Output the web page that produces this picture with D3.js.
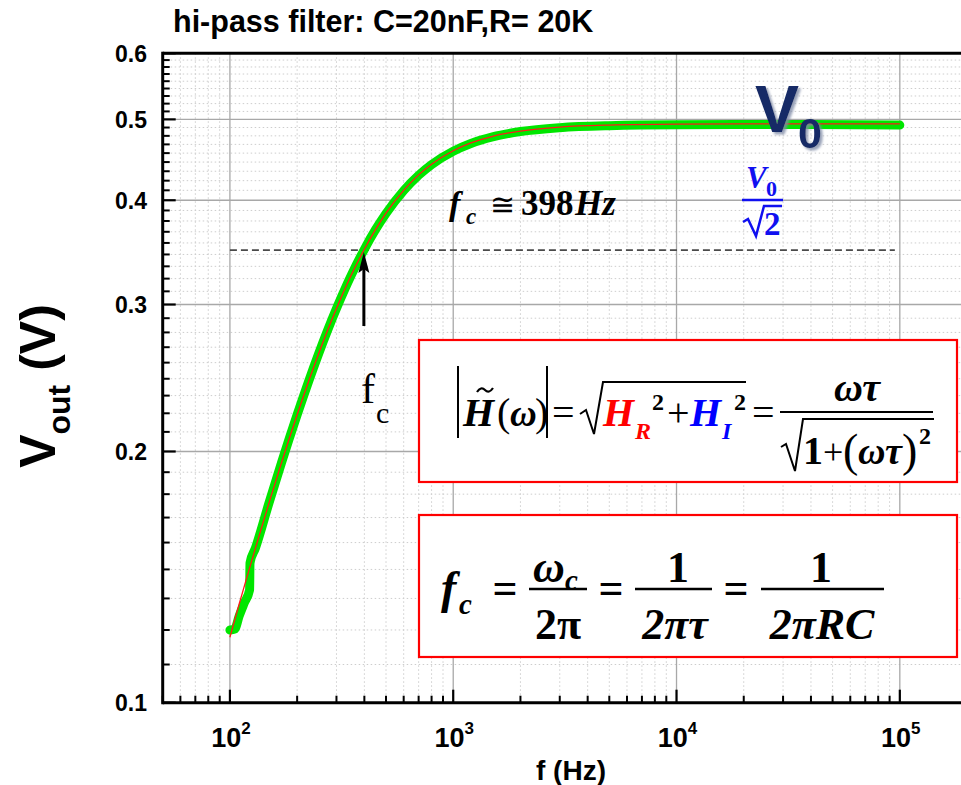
<!DOCTYPE html>
<html><head><meta charset="utf-8">
<script src="https://cdn.jsdelivr.net/npm/d3@7"></script>
<style>
html,body{margin:0;padding:0;background:#fff;}
svg{display:block;}
</style></head>
<body>
<svg id="chart" width="961" height="785"></svg>
<script>
// ---------------- data ----------------
const titleText = "hi-pass filter: C=20nF,R= 20K";
const xTickValues = [100, 1000, 10000, 100000];
const xTickExponents = ["2", "3", "4", "5"];
const yTickValues = [0.1, 0.2, 0.3, 0.4, 0.5, 0.6];
const yTickLabels = ["0.1", "0.2", "0.3", "0.4", "0.5", "0.6"];

// measured data (green)
const dataFreq = [100, 105, 110, 116, 122.5, 123, 130, 150, 170, 200, 250, 300, 350, 400, 450, 500, 600, 700, 800, 1000, 1200, 1500, 2000, 3000, 5000, 10000, 30000, 100000];
const dataVout = [0.1222, 0.1225, 0.1270, 0.1317, 0.1365, 0.1470, 0.1531, 0.1739, 0.1937, 0.2213, 0.2622, 0.2967, 0.3256, 0.3494, 0.3693, 0.3857, 0.4108, 0.4286, 0.4414, 0.4580, 0.4679, 0.4765, 0.4835, 0.4887, 0.4914, 0.4926, 0.4929, 0.4922];

// fit curve (red)
const fitFreq = [100, 110, 120, 130, 150, 170, 200, 250, 300, 350, 400, 450, 500, 600, 700, 800, 1000, 1200, 1500, 2000, 3000, 5000, 10000, 30000, 100000];
const fitVout = [0.1198, 0.1313, 0.1423, 0.1531, 0.1739, 0.1937, 0.2213, 0.2622, 0.2967, 0.3256, 0.3494, 0.3693, 0.3860, 0.4110, 0.4290, 0.4418, 0.4585, 0.4685, 0.4772, 0.4842, 0.4895, 0.4922, 0.4934, 0.4938, 0.4938];

const cutoffFreq = 398;
const cutoffVout = 0.3486;       // V0/sqrt(2)
const dashFreqRange = [100, 95000];

// ---------------- layout ----------------
const svg = d3.select("#chart");
const pL = 162.7, pT = 53.3, pB = 702.7;
const decadePx = 223.3;
const xDomain = [50, 200000];
const x = d3.scaleLog().domain(xDomain).range([pL, pL + decadePx * Math.log10(xDomain[1] / xDomain[0])]);
const y = d3.scaleLog().domain([0.1, 0.6]).range([pB, pT]);
const pR = 961;

const SANS = "'Liberation Sans', Arial, Helvetica, sans-serif";
const SERIF = "'Liberation Serif', 'Times New Roman', serif";

const defs = svg.append("defs");
const flt = defs.append("filter").attr("id", "shadow").attr("x", "-20%").attr("y", "-20%").attr("width", "150%").attr("height", "150%");
flt.append("feDropShadow").attr("dx", 2.5).attr("dy", 2.5).attr("stdDeviation", 1.2).attr("flood-color", "#7f8aa6").attr("flood-opacity", 0.8);

// minor ticks
const xMinor = [];
for (let d = 10; d <= 100000; d *= 10) for (let k = 2; k <= 9; k++) { const v = k * d; if (v > xDomain[0] - 1e-9 && x(v) < pR) xMinor.push(v); }
const yMinorVals = [];
for (let i = 1; i < 6; i++) for (let k = 1; k <= 8; k++) yMinorVals.push(i / 10 + (0.1 * k) / 9);

const g = svg.append("g");

// minor grid (dotted)
g.selectAll(".xmg").data(xMinor).enter().append("line")
  .attr("x1", d => x(d)).attr("x2", d => x(d)).attr("y1", pT).attr("y2", pB)
  .attr("stroke", "#cdcdcd").attr("stroke-width", 1).attr("stroke-dasharray", "1.5,2.5");
g.selectAll(".ymg").data(yMinorVals).enter().append("line")
  .attr("x1", pL).attr("x2", pR).attr("y1", d => y(d)).attr("y2", d => y(d))
  .attr("stroke", "#cdcdcd").attr("stroke-width", 1).attr("stroke-dasharray", "1.5,2.5");

// major grid
g.selectAll(".xMg").data(xTickValues).enter().append("line")
  .attr("x1", d => x(d)).attr("x2", d => x(d)).attr("y1", pT).attr("y2", pB)
  .attr("stroke", "#a8a8a8").attr("stroke-width", 1.3);
g.selectAll(".yMg").data(yTickValues.slice(1, -1)).enter().append("line")
  .attr("x1", pL).attr("x2", pR).attr("y1", d => y(d)).attr("y2", d => y(d))
  .attr("stroke", "#a8a8a8").attr("stroke-width", 1.3);

// dashed cutoff level
g.append("line")
  .attr("x1", x(dashFreqRange[0])).attr("x2", x(dashFreqRange[1]))
  .attr("y1", y(cutoffVout)).attr("y2", y(cutoffVout))
  .attr("stroke", "#4a4a4a").attr("stroke-width", 1.7).attr("stroke-dasharray", "7,4");

// curves
const dataPts = dataFreq.map((f, i) => [f, dataVout[i]]);
const fitPts = fitFreq.map((f, i) => [f, fitVout[i]]);
const line = d3.line().x(d => x(d[0])).y(d => y(d[1])).curve(d3.curveMonotoneX);
g.append("path").attr("d", line(dataPts)).attr("fill", "none")
  .attr("stroke", "#00e600").attr("stroke-width", 9).attr("stroke-linecap", "round").attr("stroke-linejoin", "round");
g.append("path").attr("d", line(fitPts)).attr("fill", "none")
  .attr("stroke", "#ff1a1a").attr("stroke-width", 1.3);

// arrow at fc
const ax = x(cutoffFreq);
g.append("line").attr("x1", ax).attr("x2", ax).attr("y1", 326).attr("y2", 268)
  .attr("stroke", "#000").attr("stroke-width", 3);
g.append("path").attr("d", `M${ax},${y(cutoffVout) + 2} L${ax + 5.5},${273} L${ax},${269} L${ax - 5.5},${273} Z`).attr("fill", "#000");

// fc label near arrow
const fcl = g.append("text").attr("font-family", SERIF);
fcl.append("tspan").attr("x", 361).attr("y", 403).attr("font-size", 42).text("f");
fcl.append("tspan").attr("x", 376).attr("y", 423).attr("font-size", 30).text("c");

// fc ≅ 398Hz
const fcg = g.append("text").attr("font-family", SERIF).attr("font-weight", "bold");
fcg.append("tspan").attr("x", 449).attr("y", 215).attr("font-size", 34).attr("font-style", "italic").text("f");
fcg.append("tspan").attr("x", 466).attr("y", 224).attr("font-size", 23).attr("font-style", "italic").text("c");
fcg.append("tspan").attr("x", 490).attr("y", 215).attr("font-size", 30).attr("font-family", "'DejaVu Serif', serif").attr("font-weight", "normal").text("≅");
fcg.append("tspan").attr("x", 521).attr("y", 215).attr("font-size", 35).text("398");
fcg.append("tspan").attr("x", 575).attr("y", 215).attr("font-size", 35).attr("font-style", "italic").text("Hz");

// V0/sqrt2 (blue)
const vb = g.append("g").attr("font-family", SERIF).attr("font-weight", "bold").attr("fill", "#1010f0");
const vbt = vb.append("text");
vbt.append("tspan").attr("x", 746).attr("y", 188).attr("font-size", 31).attr("font-style", "italic").text("V");
vbt.append("tspan").attr("x", 766).attr("y", 196).attr("font-size", 22).text("0");
vb.append("line").attr("x1", 742).attr("x2", 783).attr("y1", 200).attr("y2", 200).attr("stroke", "#1010f0").attr("stroke-width", 2.5);
vb.append("path").attr("d", "M743,222 L748,219 L756,236 L764,206 L782,206").attr("fill", "none").attr("stroke", "#1010f0").attr("stroke-width", 2.5);
vb.append("text").attr("x", 764).attr("y", 235).attr("font-size", 33).text("2");

// V0 label (navy, shadowed)
const v0 = g.append("text").attr("font-family", SANS).attr("font-weight", "bold").attr("fill", "#132a66").attr("filter", "url(#shadow)");
v0.append("tspan").attr("x", 755).attr("y", 132).attr("font-size", 66).text("V");
v0.append("tspan").attr("x", 798).attr("y", 148).attr("font-size", 43).text("0");

// formula boxes
const boxes = [[419, 340, 957, 482], [419, 515, 957, 657]];
g.selectAll(".box").data(boxes).enter().append("rect")
  .attr("x", d => d[0]).attr("y", d => d[1]).attr("width", d => d[2] - d[0]).attr("height", d => d[3] - d[1])
  .attr("fill", "#fff").attr("stroke", "#ff0000").attr("stroke-width", 2.2);

// formula 1
const f1 = g.append("g").attr("font-family", SERIF).attr("font-weight", "bold");
const F1 = 40, F1s = 24, b1 = 426;
f1.append("line").attr("x1", 458).attr("x2", 458).attr("y1", 366).attr("y2", 438).attr("stroke", "#000").attr("stroke-width", 2);
f1.append("line").attr("x1", 547).attr("x2", 547).attr("y1", 366).attr("y2", 438).attr("stroke", "#000").attr("stroke-width", 2);
f1.append("path").attr("d", "M477,392 q4,-6 8,-2 t8,-2").attr("fill", "none").attr("stroke", "#000").attr("stroke-width", 2.2);
f1.append("path").attr("d", "M580,414 L586,410 L594,434 L603,382 L746,382").attr("fill", "none").attr("stroke", "#000").attr("stroke-width", 2);
const l1 = f1.append("text");
l1.append("tspan").attr("x", 463).attr("y", b1).attr("font-size", F1).attr("font-style", "italic").text("H");
l1.append("tspan").attr("x", 497).attr("y", b1).attr("font-size", F1).attr("font-weight", "normal").text("(");
l1.append("tspan").attr("x", 510).attr("y", b1).attr("font-size", 37).attr("font-style", "italic").text("ω");
l1.append("tspan").attr("x", 535).attr("y", b1).attr("font-size", F1).attr("font-weight", "normal").text(")");
l1.append("tspan").attr("x", 552).attr("y", b1).attr("font-size", F1).attr("font-weight", "normal").text("=");
l1.append("tspan").attr("x", 603).attr("y", b1).attr("font-size", F1).attr("font-style", "italic").attr("fill", "#ff0000").text("H");
l1.append("tspan").attr("x", 635).attr("y", 439).attr("font-size", F1s).attr("font-style", "italic").attr("fill", "#ff0000").text("R");
l1.append("tspan").attr("x", 652).attr("y", 410).attr("font-size", F1s).text("2");
l1.append("tspan").attr("x", 667).attr("y", b1).attr("font-size", F1).attr("font-weight", "normal").text("+");
l1.append("tspan").attr("x", 690).attr("y", b1).attr("font-size", F1).attr("font-style", "italic").attr("fill", "#0000ff").text("H");
l1.append("tspan").attr("x", 722).attr("y", 439).attr("font-size", F1s).attr("font-style", "italic").attr("fill", "#0000ff").text("I");
l1.append("tspan").attr("x", 734).attr("y", 410).attr("font-size", F1s).text("2");
l1.append("tspan").attr("x", 752).attr("y", b1).attr("font-size", F1).attr("font-weight", "normal").text("=");
f1.append("line").attr("x1", 780).attr("x2", 933).attr("y1", 412).attr("y2", 412).attr("stroke", "#000").attr("stroke-width", 2);
f1.append("text").attr("x", 857).attr("y", 401).attr("font-size", F1).attr("font-style", "italic").attr("text-anchor", "middle").text("ωτ");
f1.append("path").attr("d", "M781,447 L786,444 L795,471 L803,419 L934,419").attr("fill", "none").attr("stroke", "#000").attr("stroke-width", 2);
const d1 = f1.append("text");
d1.append("tspan").attr("x", 803).attr("y", 464).attr("font-size", F1).text("1");
d1.append("tspan").attr("x", 823).attr("y", 464).attr("font-size", F1 - 4).attr("font-weight", "normal").text("+");
d1.append("tspan").attr("x", 843).attr("y", 466).attr("font-size", 46).attr("font-weight", "normal").text("(");
d1.append("tspan").attr("x", 858).attr("y", 464).attr("font-size", 38).attr("font-style", "italic").text("ωτ");
d1.append("tspan").attr("x", 902).attr("y", 466).attr("font-size", 46).attr("font-weight", "normal").text(")");
d1.append("tspan").attr("x", 919).attr("y", 444).attr("font-size", F1s).text("2");

// formula 2
const f2 = g.append("g").attr("font-family", SERIF).attr("font-weight", "bold");
const F2 = 44, nb = 582, db = 639, mb = 603;
const fl = f2.append("text");
fl.append("tspan").attr("x", 441).attr("y", mb).attr("font-size", F2 + 2).attr("font-style", "italic").text("f");
fl.append("tspan").attr("x", 459).attr("y", 614).attr("font-size", 29).attr("font-style", "italic").text("c");
[505, 611, 736].forEach(cx => f2.append("text").attr("x", cx).attr("y", mb).attr("font-size", F2).attr("text-anchor", "middle").text("="));
[[529, 587], [635, 712], [761, 884]].forEach(([a, b]) =>
  f2.append("line").attr("x1", a).attr("x2", b).attr("y1", 589).attr("y2", 589).attr("stroke", "#000").attr("stroke-width", 2.4));
const om = f2.append("text");
om.append("tspan").attr("x", 533).attr("y", nb).attr("font-size", F2).attr("font-style", "italic").text("ω");
om.append("tspan").attr("x", 565).attr("y", nb + 8).attr("font-size", 29).attr("font-style", "italic").text("c");
f2.append("text").attr("x", 558).attr("y", db).attr("font-size", F2).attr("text-anchor", "middle").text("2π");
f2.append("text").attr("x", 678).attr("y", nb).attr("font-size", F2).attr("text-anchor", "middle").text("1");
f2.append("text").attr("x", 675).attr("y", db).attr("font-size", F2).attr("text-anchor", "middle").attr("font-style", "italic").text("2πτ");
f2.append("text").attr("x", 821).attr("y", nb).attr("font-size", F2).attr("text-anchor", "middle").text("1");
f2.append("text").attr("x", 822).attr("y", db).attr("font-size", F2).attr("text-anchor", "middle").attr("font-style", "italic").text("2πRC");

// ---------------- axes ----------------
const axG = svg.append("g");
axG.selectAll(".ymt").data(yMinorVals).enter().append("line")
  .attr("x1", pL).attr("x2", pL + 7).attr("y1", d => y(d)).attr("y2", d => y(d)).attr("stroke", "#000").attr("stroke-width", 2);
axG.selectAll(".yMt").data(yTickValues).enter().append("line")
  .attr("x1", pL).attr("x2", pL + 13).attr("y1", d => y(d)).attr("y2", d => y(d)).attr("stroke", "#000").attr("stroke-width", 2.2);
axG.selectAll(".xmt").data(xMinor).enter().append("line")
  .attr("x1", d => x(d)).attr("x2", d => x(d)).attr("y1", pB).attr("y2", pB - 7).attr("stroke", "#000").attr("stroke-width", 2);
axG.selectAll(".xMt").data(xTickValues).enter().append("line")
  .attr("x1", d => x(d)).attr("x2", d => x(d)).attr("y1", pB).attr("y2", pB - 13).attr("stroke", "#000").attr("stroke-width", 2.2);
axG.append("line").attr("x1", pL).attr("x2", pL).attr("y1", pT - 1.5).attr("y2", pB + 1.5).attr("stroke", "#000").attr("stroke-width", 3);
axG.append("line").attr("x1", pL).attr("x2", pR).attr("y1", pB).attr("y2", pB).attr("stroke", "#000").attr("stroke-width", 3);
axG.append("line").attr("x1", pL).attr("x2", pR).attr("y1", pT).attr("y2", pT).attr("stroke", "#000").attr("stroke-width", 3);

axG.selectAll(".yl").data(yTickValues).enter().append("text")
  .attr("x", 147).attr("y", d => y(d)).attr("dy", "0.36em").attr("text-anchor", "end")
  .attr("font-family", SANS).attr("font-weight", "bold").attr("font-size", 23)
  .text((d, i) => yTickLabels[i]);
const xl = axG.selectAll(".xl").data(xTickValues).enter().append("text")
  .attr("x", d => x(d) + 1).attr("y", 747).attr("text-anchor", "middle")
  .attr("font-family", SANS).attr("font-weight", "bold").attr("font-size", 27);
xl.append("tspan").text("10");
xl.append("tspan").attr("dy", -13).attr("font-size", 17).text((d, i) => xTickExponents[i]);

svg.append("text").attr("x", 571).attr("y", 780).attr("text-anchor", "middle")
  .attr("font-family", SANS).attr("font-weight", "bold").attr("font-size", 28).text("f (Hz)");
const yt = svg.append("text").attr("transform", "translate(55,386) rotate(-90)").attr("text-anchor", "middle")
  .attr("font-family", SANS).attr("font-weight", "bold");
yt.append("tspan").attr("font-size", 50).text("V");
yt.append("tspan").attr("font-size", 32).attr("dy", 15).text("out");
yt.append("tspan").attr("font-size", 50).attr("dy", -15).text(" (V)");

svg.append("text").attr("x", 173).attr("y", 32).attr("font-family", SANS).attr("font-weight", "bold")
  .attr("font-size", 30.5).text(titleText);
</script>
</body></html>
